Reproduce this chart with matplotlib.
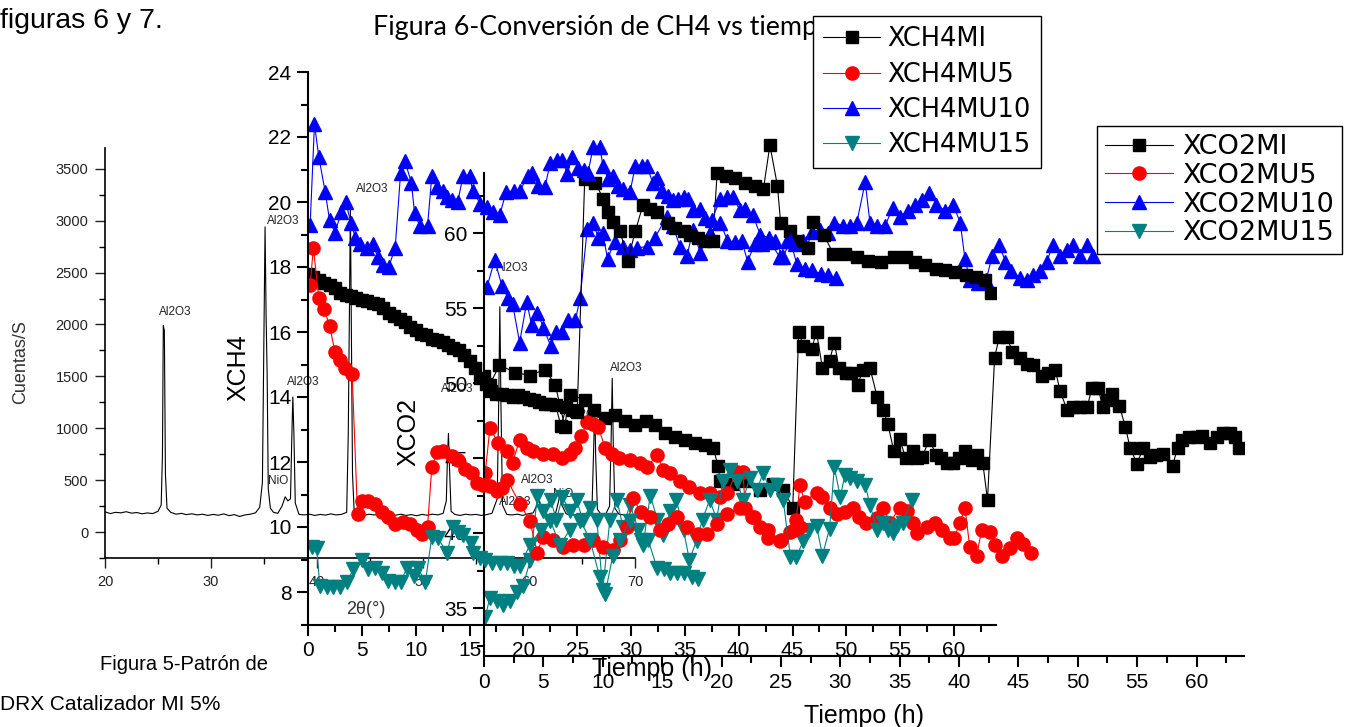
import matplotlib
matplotlib.use("Agg")
import matplotlib.pyplot as plt
from matplotlib.ticker import MultipleLocator

plt.rcParams['font.family'] = ['Liberation Sans', 'DejaVu Sans']

W, H = 1364, 727

# --- Figura 5: DRX pattern ---
two_theta = [20.0, 20.5, 21.0, 21.5, 22.0, 22.5, 23.0, 23.5, 24.0, 24.5,
             25.0, 25.3, 25.42, 25.5, 25.6, 25.7, 25.85, 26.2, 26.7, 27.2,
             27.7, 28.2, 28.7, 29.2, 29.7, 30.2, 30.7, 31.2, 31.7, 32.2,
             32.7, 33.2, 33.7, 34.2, 34.6, 34.85, 35.0, 35.1, 35.2, 35.3,
             35.4, 35.6, 35.9, 36.3, 36.7, 37.0, 37.25, 37.5, 37.62, 37.72,
             37.82, 37.95, 38.3, 38.8, 39.3, 39.8, 40.3, 40.8, 41.3, 41.8,
             42.3, 42.8, 42.95, 43.05, 43.15, 43.25, 43.35, 43.5, 43.9, 44.4,
             44.9, 45.4, 45.9, 46.4, 46.9, 47.4, 47.9, 48.4, 48.9, 49.4,
             49.9, 50.4, 50.9, 51.4, 51.9, 52.2, 52.3, 52.4, 52.5, 52.65,
             53.0, 53.5, 54.0, 54.5, 55.0, 55.5, 56.0, 56.5, 57.0, 57.15,
             57.25, 57.35, 57.5, 57.9, 58.4, 58.9, 59.4, 59.9, 60.4, 60.7,
             60.9, 61.1, 61.5, 62.0, 62.5, 62.75, 62.9, 63.1, 63.5, 64.0,
             64.5, 65.0, 65.5, 65.95, 66.1, 66.2, 66.3, 66.45, 66.8, 67.2,
             67.6, 67.75, 67.85, 67.95, 68.1, 68.5, 69.0, 69.5, 70.0]
counts = [195, 178, 190, 185, 196, 182, 188, 176, 184, 178,
          200, 260, 750, 1990, 1940, 560, 230, 190, 172, 180,
          168, 176, 165, 172, 160, 170, 162, 175, 158, 168,
          150, 165, 172, 185, 240, 480, 1900, 2940, 2070, 1500,
          420, 230, 190, 180, 250, 340, 300, 320, 900, 1300,
          950, 280, 170, 165, 172, 160, 170, 163, 175, 165,
          170, 190, 950, 2100, 3130, 1900, 560, 210, 170, 160,
          172, 165, 170, 158, 168, 162, 172, 160, 168, 157,
          170, 162, 172, 165, 180, 300, 700, 950, 620, 200,
          170, 160, 172, 165, 170, 160, 168, 180, 320, 1300,
          2170, 1250, 260, 170, 165, 172, 160, 175, 185, 250,
          330, 240, 175, 165, 180, 280, 350, 260, 175, 165,
          170, 160, 172, 260, 800, 1200, 700, 220, 170, 165,
          250, 900, 1480, 850, 230, 170, 165, 172, 168]

peak_names = ["Al2O3", "Al2O3", "Al2O3", "NiO", "Al2O3", "Al2O3",
              "Al2O3", "Al2O3", "Al2O3", "NiO", "Al2O3", "Al2O3"]
peak_x = [26.6, 36.8, 38.7, 36.3, 45.2, 53.2, 58.4, 65.4, 69.2, 63.2, 58.7, 60.8]
peak_y = [2119, 2995, 1445, 491, 3303, 1377, 2542, 1127, 1579, 366, 289, 500]

# --- Figura 6: XCH4 ---
t_ch4_mi = [0, 0.5, 1, 1.5, 2, 2.5, 3, 3.5, 4, 4.5,
            5, 5.5, 6, 6.5, 7, 7.5, 8, 8.5, 9, 9.5,
            10, 10.5, 11, 11.5, 12, 12.5, 13, 13.5, 14, 14.5,
            15, 15.5, 16, 16.5, 17, 17.5, 18, 18.5, 19, 19.5,
            20, 20.5, 21, 21.5, 22, 22.5, 23, 23.5, 24, 24.5,
            25, 25.7, 26.7, 27.4, 27.9, 28.3, 29.0, 29.7, 30.4, 31.1,
            31.8, 32.4, 33.4, 34.1, 34.9, 35.5, 36.2, 36.9, 37.6, 38.0,
            38.8, 39.7, 40.6, 41.5, 42.3, 42.9, 43.6, 43.9, 44.8, 45.4,
            46.4, 46.9, 47.9, 48.8, 49.9, 51.0, 52.0, 53.2, 54.4, 55.5,
            56.4, 57.3, 58.3, 59.2, 60.1, 61.1, 62.0, 62.9, 63.4]
ch4_mi = [17.8, 17.7, 17.6, 17.5, 17.45, 17.35, 17.2, 17.15, 17.1, 17.05,
          17.0, 16.95, 16.9, 16.85, 16.75, 16.6, 16.5, 16.4, 16.3, 16.15,
          16.05, 15.95, 15.9, 15.8, 15.75, 15.7, 15.6, 15.5, 15.45, 15.3,
          15.1, 14.9, 14.6, 14.4, 14.2, 14.1, 14.1, 14.05, 14.0, 14.05,
          14.0, 13.95, 13.9, 13.85, 13.8, 13.8, 13.75, 13.1, 13.7, 13.6,
          13.55, 20.7, 20.6, 20.1, 19.7, 19.4, 19.1, 18.2, 19.1, 19.9,
          19.8, 19.7, 19.35, 19.2, 19.1, 19.0, 18.9, 18.8, 18.8, 20.9,
          20.8, 20.75, 20.6, 20.5, 20.4, 21.75, 20.5, 19.35, 19.1, 18.8,
          18.6, 19.4, 19.0, 18.4, 18.4, 18.3, 18.2, 18.15, 18.3, 18.3,
          18.15, 18.05, 17.95, 17.9, 17.85, 17.75, 17.7, 17.6, 17.2]

t_ch4_mu5 = [0.2, 0.5, 1.0, 1.5, 2.0, 2.5, 3.0, 3.4, 4.1, 4.6,
             5.0, 5.6, 6.2, 6.9, 7.4, 8.1, 8.8, 9.5, 10.1, 10.6,
             11.1, 11.5, 12.0, 12.5, 13.4, 13.9, 14.6, 15.2, 15.7, 16.3,
             16.9, 17.6, 18.0, 18.5, 19.7, 20.6, 21.3, 21.8, 22.8, 23.7,
             24.6, 25.6, 26.5, 27.4, 28.3, 29.0, 29.6, 30.2, 30.9, 31.8,
             32.7, 33.4, 34.3, 35.2, 36.2, 37.1, 38.0, 38.9, 40.1, 41.4,
             42.7, 43.9, 45.1, 45.7]
ch4_mu5 = [17.45, 18.6, 17.05, 16.7, 16.2, 15.4, 15.15, 14.9, 14.7, 10.4,
           10.8, 10.8, 10.7, 10.45, 10.3, 10.1, 10.15, 10.1, 9.9, 9.8,
           10.0, 11.85, 12.3, 12.35, 12.2, 12.05, 11.8, 11.65, 11.35, 11.3,
           11.25, 11.1, 11.2, 11.45, 10.7, 10.2, 9.2, 9.7, 9.6, 9.4,
           9.45, 9.45, 9.6, 9.4, 9.3, 9.6, 10.0, 10.9, 10.45, 10.3,
           9.9, 10.1, 10.3, 10.0, 9.8, 9.8, 10.1, 10.4, 10.6, 10.3,
           9.9, 9.6, 9.9, 10.0]

t_ch4_mu10 = [0.2, 0.6, 1.0, 1.6, 2.0, 2.5, 3.1, 3.5, 4.0, 4.4,
              4.8, 5.5, 6.0, 6.5, 7.0, 7.5, 8.1, 8.6, 9.0, 9.6,
              9.9, 10.4, 11.1, 11.5, 12.0, 12.5, 12.9, 13.4, 13.9, 14.4,
              15.0, 15.3, 16.0, 16.6, 17.2, 17.8, 18.4, 19.1, 19.7, 20.4,
              20.8, 21.4, 22.0, 22.5, 23.1, 23.6, 24.1, 24.5, 25.1, 25.6,
              26.0, 26.5, 27.1, 27.4, 27.9, 28.3, 28.8, 29.3, 29.9, 30.4,
              31.0, 31.5, 32.0, 32.4, 32.9, 33.4, 33.9, 34.4, 34.9, 35.3,
              35.8, 36.4, 36.9, 37.5, 38.3, 38.9, 39.5, 40.1, 40.6, 41.3,
              42.0, 42.8, 43.4, 44.1, 44.8, 45.4, 46.2, 46.8, 47.6, 48.3,
              49.0]
ch4_mu10 = [19.3, 22.4, 21.4, 20.3, 19.45, 19.05, 19.7, 20.0, 19.35, 18.9,
            18.7, 18.6, 18.7, 18.3, 18.05, 18.0, 18.6, 20.9, 21.25, 20.6,
            19.65, 19.25, 19.25, 20.8, 20.45, 20.35, 20.15, 20.05, 20.0, 20.8,
            20.8, 20.35, 19.95, 19.85, 19.7, 19.6, 20.3, 20.35, 20.35, 20.8,
            20.9, 20.5, 20.45, 21.2, 21.3, 21.3, 20.85, 21.4, 21.05, 21.0,
            20.9, 21.7, 21.7, 21.1, 20.7, 20.8, 20.5, 20.4, 20.3, 21.1,
            21.1, 21.1, 20.6, 20.75, 20.35, 20.2, 20.05, 20.1, 20.15, 20.1,
            19.75, 19.8, 19.5, 19.45, 20.1, 20.15, 20.15, 19.75, 19.8, 19.6,
            19.0, 18.9, 18.8, 18.3, 18.8, 18.1, 17.95, 17.9, 17.8, 17.75,
            17.65]

t_ch4_mu15 = [0.4, 0.8, 1.1, 1.8, 2.3, 3.0, 3.6, 4.2, 5.0, 5.6,
              6.2, 6.9, 7.4, 8.1, 8.6, 9.2, 9.8, 10.2, 10.9, 11.5,
              12.1, 12.9, 13.5, 13.9, 14.4, 15.1, 15.3, 16.0, 16.4, 17.1,
              17.8, 18.5, 19.1, 19.7, 20.6, 21.6, 22.5, 23.4, 24.3, 25.3,
              26.2, 27.1, 27.6, 28.3, 29.0, 29.9, 30.9, 31.6, 32.4, 33.1,
              33.6, 34.3, 34.9, 35.7, 36.2]
ch4_mu15 = [9.4, 9.35, 8.2, 8.15, 8.15, 8.15, 8.3, 8.7, 9.0, 8.7,
            8.75, 8.6, 8.35, 8.3, 8.3, 8.75, 8.5, 8.75, 8.3, 9.7,
            9.65, 9.2, 10.0, 9.85, 9.75, 9.5, 9.2, 9.05, 9.0, 8.9,
            8.9, 8.9, 8.8, 8.8, 9.45, 9.9, 10.2, 9.45, 9.9, 10.2,
            9.6, 8.45, 7.95, 9.1, 9.6, 10.2, 9.6, 9.6, 8.75, 8.7,
            8.6, 8.6, 8.6, 8.45, 8.4]

# --- Figura 7: XCO2 ---
t_co2_mi = [0.0, 0.5, 1.3, 2.6, 3.9, 5.1, 6.0, 6.8, 7.2, 8.5,
            9.3, 10.2, 11.0, 11.9, 12.7, 13.6, 14.4, 15.2, 16.1, 16.9,
            17.8, 18.6, 19.3, 19.7, 19.9, 21.0, 22.1, 23.2, 24.3, 25.2,
            26.0, 26.5, 26.9, 27.6, 28.0, 28.5, 29.1, 29.5, 29.9, 30.5,
            30.9, 31.5, 31.9, 32.5, 33.1, 33.6, 34.0, 34.5, 35.0, 35.5,
            36.1, 36.5, 36.9, 37.5, 38.1, 38.5, 39.0, 39.5, 40.0, 40.5,
            41.1, 41.5, 42.0, 42.4, 43.0, 43.4, 44.0, 44.5, 45.1, 45.7,
            46.2, 47.0, 47.5, 48.1, 48.5, 49.1, 49.6, 50.2, 50.8, 51.2,
            51.7, 52.1, 52.5, 52.9, 53.5, 54.0, 54.4, 55.0, 55.5, 56.1,
            56.6, 57.2, 58.0, 58.4, 58.8, 59.4, 60.0, 60.5, 61.1, 61.7,
            62.2, 62.8, 63.2, 63.6]
co2_mi = [50.5, 49.9, 51.2, 50.7, 50.5, 50.9, 49.9, 47.1, 49.2, 48.9,
          48.2, 47.7, 47.9, 47.5, 47.2, 47.5, 47.2, 46.7, 46.4, 46.2,
          46.0, 45.9, 45.7, 44.5, 43.5, 43.3, 43.5, 42.9, 43.3, 42.9,
          41.7, 53.4, 52.5, 52.3, 53.4, 51.0, 51.5, 52.7, 51.0, 50.7,
          50.7, 49.9, 50.9, 51.0, 49.1, 48.2, 47.3, 45.5, 46.3, 45.0,
          45.5, 45.0, 45.1, 46.2, 45.2, 45.0, 44.7, 44.7, 45.0, 45.5,
          44.9, 45.2, 44.7, 42.2, 51.7, 53.1, 53.1, 52.1, 51.7, 51.3,
          51.2, 50.5, 50.7, 50.9, 49.5, 48.2, 48.4, 48.4, 48.4, 49.7,
          49.7, 48.4, 48.9, 49.3, 48.5, 47.1, 45.7, 44.6, 45.7, 45.1,
          45.2, 45.3, 44.5, 45.7, 46.2, 46.4, 46.4, 46.5, 46.0, 46.4,
          46.7, 46.7, 46.4, 45.7]

t_co2_mu5 = [0.1, 0.5, 1.2, 1.9, 2.4, 3.0, 3.6, 4.1, 5.0, 5.8,
             6.6, 7.2, 7.7, 8.2, 8.7, 9.2, 9.6, 10.2, 10.8, 11.4,
             12.3, 13.1, 13.7, 14.6, 15.1, 15.7, 16.5, 17.3, 18.2, 19.0,
             19.9, 20.5, 21.3, 21.8, 22.0, 22.6, 23.2, 23.9, 24.9, 25.8,
             26.3, 26.6, 27.0, 28.0, 28.5, 29.1, 29.7, 30.4, 31.1, 31.6,
             32.2, 33.1, 33.6, 34.2, 35.0, 35.6, 36.1, 36.5, 37.3, 38.0,
             38.6, 39.2, 39.6, 40.1, 40.5, 40.9, 41.5, 41.9, 42.6, 43.0,
             43.6, 44.3, 44.9, 45.4, 46.1]
co2_mu5 = [44.0, 47.0, 46.0, 45.5, 44.7, 46.2, 45.7, 45.5, 45.3, 45.3,
           45.0, 45.3, 45.7, 46.5, 47.4, 47.3, 47.1, 45.7, 45.3, 45.0,
           44.9, 44.7, 44.4, 45.2, 44.2, 44.0, 43.5, 43.1, 42.7, 42.7,
           42.4, 42.7, 44.1, 44.1, 41.7, 41.1, 40.4, 39.7, 39.5, 40.1,
           40.9, 43.2, 42.1, 42.7, 42.4, 41.7, 41.3, 41.4, 41.7, 41.1,
           40.7, 41.0, 41.7, 40.7, 41.7, 41.5, 40.7, 40.0, 40.4, 40.7,
           40.2, 39.7, 39.7, 40.7, 41.7, 39.1, 38.5, 40.2, 40.1, 39.2,
           38.5, 39.0, 39.7, 39.3, 38.7]

t_co2_mu10 = [0.25, 0.9, 1.5, 2.0, 2.4, 3.0, 3.6, 4.0, 4.5, 5.0,
              5.6, 6.1, 6.6, 7.1, 7.7, 8.1, 8.7, 9.2, 9.6, 10.0,
              10.4, 11.0, 11.7, 12.3, 12.9, 13.7, 14.4, 15.4, 15.9, 16.5,
              17.1, 17.6, 18.2, 19.0, 19.9, 20.5, 21.1, 21.7, 22.2, 22.8,
              23.4, 24.1, 24.9, 25.5, 26.2, 26.9, 27.6, 28.3, 29.0, 29.5,
              30.2, 30.8, 31.4, 32.1, 32.5, 33.1, 33.8, 34.4, 35.0, 35.7,
              36.3, 36.9, 37.5, 38.1, 38.8, 39.5, 40.1, 40.5, 40.9, 41.6,
              42.3, 42.8, 43.4, 43.9, 44.4, 45.1, 45.7, 46.2, 46.8, 47.4,
              47.9, 48.5, 49.1, 49.6, 50.2, 50.8, 51.3]
co2_mu10 = [56.4, 58.2, 56.5, 55.7, 55.3, 52.7, 55.4, 53.9, 54.7, 53.7,
            52.5, 53.4, 53.4, 54.2, 54.2, 55.7, 60.3, 60.7, 59.7, 60.0,
            58.3, 59.4, 59.1, 58.9, 59.0, 59.1, 59.7, 61.1, 60.5, 59.1,
            58.5, 60.2, 58.7, 60.0, 60.7, 59.5, 59.4, 59.5, 58.1, 59.3,
            59.3, 59.4, 58.4, 59.5, 59.3, 59.5, 60.1, 60.2, 60.0, 60.7,
            60.5, 60.5, 60.7, 63.4, 60.7, 60.5, 60.5, 61.7, 61.1, 61.5,
            61.9, 62.2, 62.7, 61.9, 61.5, 61.9, 60.7, 58.3, 56.9, 56.7,
            56.9, 58.5, 59.2, 58.1, 57.5, 57.0, 56.9, 57.2, 57.5, 58.1,
            59.2, 58.5, 58.9, 59.2, 58.5, 59.2, 58.5]

t_co2_mu15 = [0.1, 0.5, 1.1, 1.6, 2.2, 2.8, 3.3, 3.9, 4.5, 5.0,
              5.6, 6.1, 6.6, 7.2, 7.8, 8.3, 8.9, 9.5, 10.0, 10.6,
              11.2, 11.7, 12.3, 13.0, 13.4, 14.0, 14.6, 15.1, 15.7, 16.2,
              16.8, 17.3, 17.9, 18.4, 19.0, 19.6, 20.1, 20.7, 21.3, 21.8,
              22.4, 23.0, 23.5, 24.1, 24.7, 25.2, 25.8, 26.3, 26.9, 27.4,
              28.0, 28.5, 29.1, 29.5, 30.0, 30.4, 30.8, 31.4, 32.1, 32.5,
              33.1, 33.6, 34.0, 34.4, 34.8, 35.3, 36.0]
co2_mu15 = [34.4, 35.7, 35.5, 35.2, 35.5, 36.1, 36.5, 38.2, 42.5, 41.5,
            42.2, 40.9, 42.4, 41.5, 42.2, 40.9, 41.7, 40.9, 36.2, 40.9,
            42.2, 40.4, 41.9, 40.2, 39.2, 42.5, 40.9, 39.9, 41.5, 42.2,
            40.2, 38.2, 39.5, 40.9, 42.2, 40.9, 43.5, 44.2, 43.5, 42.2,
            43.7, 42.9, 44.0, 42.9, 43.2, 42.2, 38.4, 38.4, 39.5, 40.2,
            40.5, 38.5, 40.3, 44.4, 42.4, 43.9, 43.7, 43.5, 43.2, 41.9,
            40.2, 40.7, 40.2, 40.0, 40.5, 40.7, 42.2]

TEAL = '#008080'


def box(l, t, r, b):
    # pixel box -> figure fraction
    return [l / W, 1 - b / H, (r - l) / W, (b - t) / H]


def style_axis(ax, lw=1.5):
    ax.set_facecolor('none')
    for s in ['top', 'right']:
        ax.spines[s].set_visible(False)
    for s in ['left', 'bottom']:
        ax.spines[s].set_linewidth(lw)


fig = plt.figure(figsize=(W / 100, H / 100), dpi=100)

# DRX
ax1 = fig.add_axes(box(105, 148, 635, 558))
ax1.set_zorder(1)
style_axis(ax1, 1.2)
ax1.plot(two_theta, counts, color='black', lw=0.8)
ax1.set_xlim(20, 70)
ax1.set_ylim(-250, 3700)
ax1.xaxis.set_major_locator(MultipleLocator(10))
ax1.xaxis.set_minor_locator(MultipleLocator(5))
ax1.yaxis.set_major_locator(MultipleLocator(500))
ax1.yaxis.set_minor_locator(MultipleLocator(250))
ax1.tick_params(which='major', direction='out', length=7, width=1, labelsize=10.5, pad=5, colors='#222222')
ax1.tick_params(which='minor', direction='out', length=4, width=1)
for name, px, py in zip(peak_names, peak_x, peak_y):
    ax1.text(px, py, name, fontsize=8.5, ha='center', va='center', color='#222222')
ax1.set_ylabel('Cuentas/S', fontsize=13, color='#333333')
ax1.yaxis.set_label_coords((29 - 105) / 530, (558 - 362) / 410)

# XCO2 (Figura 7)
ax3 = fig.add_axes(box(484, 173, 1244, 656))
ax3.set_zorder(2)
style_axis(ax3)
ax3.plot(t_co2_mi, co2_mi, '-s', color='black', lw=0.8, ms=9, label='XCO2MI')
ax3.plot(t_co2_mu5, co2_mu5, '-o', color='red', lw=0.8, ms=9.5, label='XCO2MU5')
ax3.plot(t_co2_mu10, co2_mu10, '-^', color='blue', lw=0.8, ms=10, label='XCO2MU10')
ax3.plot(t_co2_mu15, co2_mu15, '-v', color=TEAL, lw=0.8, ms=10, label='XCO2MU15')
ax3.set_xlim(0, 64)
ax3.set_ylim(31.8, 64)
ax3.xaxis.set_major_locator(MultipleLocator(5))
ax3.xaxis.set_minor_locator(MultipleLocator(2.5))
ax3.yaxis.set_major_locator(MultipleLocator(5))
ax3.yaxis.set_minor_locator(MultipleLocator(2.5))
ax3.tick_params(which='major', direction='out', length=8, width=1.5, labelsize=15, pad=4)
ax3.tick_params(which='minor', direction='out', length=5, width=1.5)
ax3.set_ylabel('XCO2', fontsize=18)
ax3.yaxis.set_label_coords((420 - 484) / 760, (656 - 432) / 483)
ax3.set_xlabel('Tiempo (h)', fontsize=18, labelpad=9)
leg3 = ax3.legend(loc='upper left', bbox_to_anchor=(1097 / W, 1 - 126 / H),
                  bbox_transform=fig.transFigure, borderaxespad=0,
                  prop={'family': 'DejaVu Sans', 'size': 19.5},
                  fancybox=False, framealpha=1, edgecolor='black',
                  handlelength=2.5, handletextpad=0.33, labelspacing=0.1,
                  borderpad=0.3)
leg3.get_frame().set_linewidth(1.0)

# XCH4 (Figura 6)
ax2 = fig.add_axes(box(308, 72, 996, 624.5))
ax2.set_zorder(3)
style_axis(ax2)
ax2.plot(t_ch4_mi, ch4_mi, '-s', color='black', lw=0.8, ms=9, label='XCH4MI')
ax2.plot(t_ch4_mu5, ch4_mu5, '-o', color='red', lw=0.8, ms=9.5, label='XCH4MU5')
ax2.plot(t_ch4_mu10, ch4_mu10, '-^', color='blue', lw=0.8, ms=10, label='XCH4MU10')
ax2.plot(t_ch4_mu15, ch4_mu15, '-v', color=TEAL, lw=0.8, ms=10, label='XCH4MU15')
ax2.set_xlim(0, 63.9)
ax2.set_ylim(7, 24)
ax2.xaxis.set_major_locator(MultipleLocator(5))
ax2.xaxis.set_minor_locator(MultipleLocator(2.5))
ax2.yaxis.set_major_locator(MultipleLocator(2))
ax2.yaxis.set_minor_locator(MultipleLocator(1))
ax2.tick_params(which='major', direction='out', length=8, width=1.5, labelsize=15, pad=4)
ax2.tick_params(which='minor', direction='out', length=5, width=1.5)
ax2.set_yticks([8, 10, 12, 14, 16, 18, 20, 22, 24])
ax2.set_ylabel('XCH4', fontsize=18)
ax2.yaxis.set_label_coords((250 - 308) / 688, (624.5 - 368) / 552.5)
ax2.set_xlabel('Tiempo (h)', fontsize=18, labelpad=-2)
leg2 = ax2.legend(loc='upper left', bbox_to_anchor=(813 / W, 1 - 16 / H),
                  bbox_transform=fig.transFigure, borderaxespad=0,
                  prop={'family': 'DejaVu Sans', 'size': 18.5},
                  fancybox=False, framealpha=1, edgecolor='black',
                  handlelength=2.2, handletextpad=0.3, labelspacing=0.36,
                  borderpad=0.4)
leg2.get_frame().set_linewidth(1.0)

# loose text of the page
fig.text(0 / W, 1 - 21 / H, 'figuras 6 y 7.', fontsize=20.5, va='center', ha='left')
fig.text(373 / W, 1 - 27 / H, 'Figura 6-Conversión de CH4 vs tiempo', fontsize=19.4,
         family=['Lato', 'DejaVu Sans'], va='center', ha='left', zorder=1)
fig.text(366 / W, 1 - 610 / H, '2θ(°)', fontsize=13, color='#333333', va='center', ha='center')
fig.text(100 / W, 1 - 665 / H, 'Figura 5-Patrón de', fontsize=14.5, va='center', ha='left')
fig.text(0 / W, 1 - 705 / H, 'DRX Catalizador MI 5%', fontsize=15, va='center', ha='left')

fig.savefig('out.png', dpi=100)
